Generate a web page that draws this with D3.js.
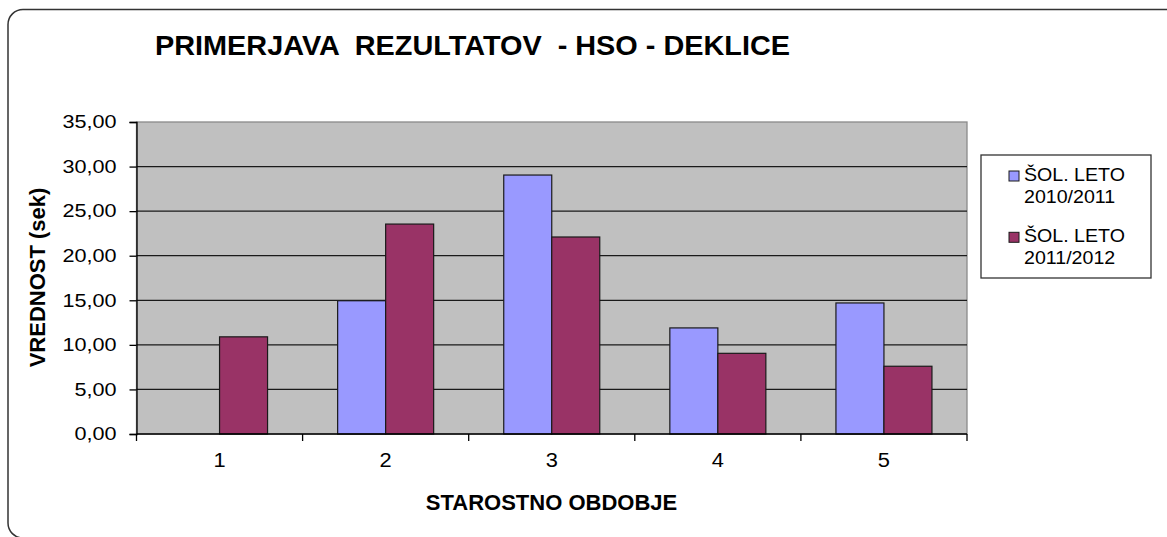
<!DOCTYPE html>
<html>
<head>
<meta charset="utf-8">
<script src="https://cdn.jsdelivr.net/npm/d3@7"></script>
<style>
  body { margin: 0; background: #fff; }
  svg { display: block; font-family: "Liberation Sans", Arial, sans-serif; }
</style>
</head>
<body>
<div id="chart"></div>
<script>
// DATA
var categories = ["1", "2", "3", "4", "5"];
var seriesNames = ["ŠOL. LETO 2010/2011", "ŠOL. LETO 2011/2012"];
var values2010 = [null, 14.95, 29.05, 11.9, 14.7];
var values2011 = [10.9, 23.55, 22.1, 9.05, 7.6];
var yTicks = [0, 5, 10, 15, 20, 25, 30, 35];

var colors = ["#9999ff", "#993366"];

var W = 1167, H = 537;

var svg = d3.select("#chart").append("svg")
  .attr("width", W).attr("height", H);

//FRAME (rounded, running off the bottom/right)
svg.append("rect")
  .attr("x", 8).attr("y", 9.5)
  .attr("width", 1175).attr("height", 528.5)
  .attr("rx", 15)
  .attr("fill", "#fff")
  .attr("stroke", "#333").attr("stroke-width", 1.5);

//helper: widen regular text a bit to match the original rendering
function stretch(sel, k) {
  sel.each(function() {
    var w = this.getComputedTextLength();
    d3.select(this).attr("textLength", w * k).attr("lengthAdjust", "spacingAndGlyphs");
  });
}

var x0 = d3.scaleBand().domain(categories).range([136.5, 967]).padding(0);
var x1 = d3.scaleBand().domain([0, 1]).range([0, x0.bandwidth()])
  .paddingInner(0).paddingOuter(0.73);
var y = d3.scaleLinear().domain([0, 35]).range([434, 122]);

var locale = d3.formatLocale({decimal: ",", thousands: ".", grouping: [3], currency: ["", "€"]});
var fmt = locale.format(".2f");

//PLOT AREA
svg.append("rect")
  .attr("x", x0.range()[0]).attr("y", y(35))
  .attr("width", x0.range()[1] - x0.range()[0])
  .attr("height", y(0) - y(35))
  .attr("fill", "#c0c0c0")
  .attr("stroke", "#8a8a8a").attr("stroke-width", 1.3);

//GRIDLINES
svg.append("g").selectAll("line")
  .data(yTicks.filter(function(d) { return d > 0 && d < 35; }))
  .enter().append("line")
  .attr("x1", x0.range()[0]).attr("x2", x0.range()[1])
  .attr("y1", function(d) { return y(d); })
  .attr("y2", function(d) { return y(d); })
  .attr("stroke", "#1a1a1a").attr("stroke-width", 1.3);

//BARS
var rows = categories.map(function(c, i) {
  return {cat: c, vals: [values2010[i], values2011[i]]};
});

var groups = svg.append("g").selectAll("g")
  .data(rows).enter().append("g")
  .attr("transform", function(d) { return "translate(" + x0(d.cat) + ",0)"; });

groups.selectAll("rect")
  .data(function(d) {
    return d.vals.map(function(v, j) { return {s: j, v: v}; })
      .filter(function(e) { return e.v != null; });
  })
  .enter().append("rect")
  .attr("x", function(d) { return x1(d.s); })
  .attr("width", x1.bandwidth())
  .attr("y", function(d) { return y(d.v); })
  .attr("height", function(d) { return y(0) - y(d.v); })
  .attr("fill", function(d) { return colors[d.s]; })
  .attr("stroke", "#1a1a1a").attr("stroke-width", 1.2);

//Y AXIS
var yAxis = d3.axisLeft(y).tickValues(yTicks).tickFormat(fmt)
  .tickSize(7).tickPadding(13);
var gy = svg.append("g")
  .attr("transform", "translate(" + x0.range()[0] + ",0)")
  .call(yAxis);
gy.select(".domain").attr("stroke", "#000").attr("stroke-width", 1.3);
gy.selectAll(".tick line").attr("stroke", "#000").attr("stroke-width", 1.3);
gy.selectAll("text")
  .attr("font-family", "Liberation Sans, Arial, sans-serif")
  .attr("font-size", 18).attr("fill", "#000")
  .call(stretch, 1.2);

//X AXIS (labels centered, ticks on category boundaries)
var xAxis = d3.axisBottom(x0).tickSize(0).tickPadding(0);
var gx = svg.append("g")
  .attr("transform", "translate(0," + y(0) + ")")
  .call(xAxis);
gx.select(".domain").remove();
gx.selectAll("text")
  .attr("y", 33).attr("dy", null)
  .attr("font-family", "Liberation Sans, Arial, sans-serif")
  .attr("font-size", 19.5).attr("fill", "#000")
  .call(stretch, 1.12);

var bounds = categories.map(function(c) { return x0(c); }).concat([x0.range()[1]]);
svg.append("line")
  .attr("x1", x0.range()[0]).attr("x2", x0.range()[1])
  .attr("y1", y(0)).attr("y2", y(0))
  .attr("stroke", "#000").attr("stroke-width", 1.3);
svg.append("g").selectAll("line")
  .data(bounds).enter().append("line")
  .attr("x1", function(d) { return d; }).attr("x2", function(d) { return d; })
  .attr("y1", y(0)).attr("y2", y(0) + 7)
  .attr("stroke", "#000").attr("stroke-width", 1.3);

//TITLES
svg.append("text")
  .attr("x", 155).attr("y", 55)
  .attr("font-size", 28).attr("font-weight", "bold")
  .attr("xml:space", "preserve")
  .attr("textLength", 635).attr("lengthAdjust", "spacingAndGlyphs")
  .text("PRIMERJAVA  REZULTATOV  - HSO - DEKLICE");

svg.append("text")
  .attr("x", 551.5).attr("y", 510)
  .attr("text-anchor", "middle")
  .attr("font-size", 22).attr("font-weight", "bold")
  .text("STAROSTNO OBDOBJE");

svg.append("text")
  .attr("transform", "translate(45,277.5) rotate(-90)")
  .attr("text-anchor", "middle")
  .attr("font-size", 22).attr("font-weight", "bold")
  .text("VREDNOST (sek)");

//LEGEND
var legend = svg.append("g");
legend.append("rect")
  .attr("x", 981).attr("y", 155).attr("width", 170).attr("height", 123)
  .attr("fill", "#fff").attr("stroke", "#333").attr("stroke-width", 1.3);

var items = legend.selectAll("g.item")
  .data(seriesNames).enter().append("g")
  .attr("class", "item")
  .attr("transform", function(d, i) { return "translate(0," + (i * 61.3) + ")"; });

items.append("rect")
  .attr("x", 1009).attr("y", 171).attr("width", 10).attr("height", 10)
  .attr("fill", function(d, i) { return colors[i]; })
  .attr("stroke", "#1a1a1a").attr("stroke-width", 1);

var lt = items.append("text")
  .attr("font-size", 17.5).attr("fill", "#000");
lt.append("tspan").attr("x", 1024).attr("y", 181)
  .text(function(d) { return d.slice(0, 9); });
lt.append("tspan").attr("x", 1024).attr("y", 202.5)
  .text(function(d) { return d.slice(10); });
lt.selectAll("tspan").call(stretch, 1.12);
</script>
</body>
</html>
